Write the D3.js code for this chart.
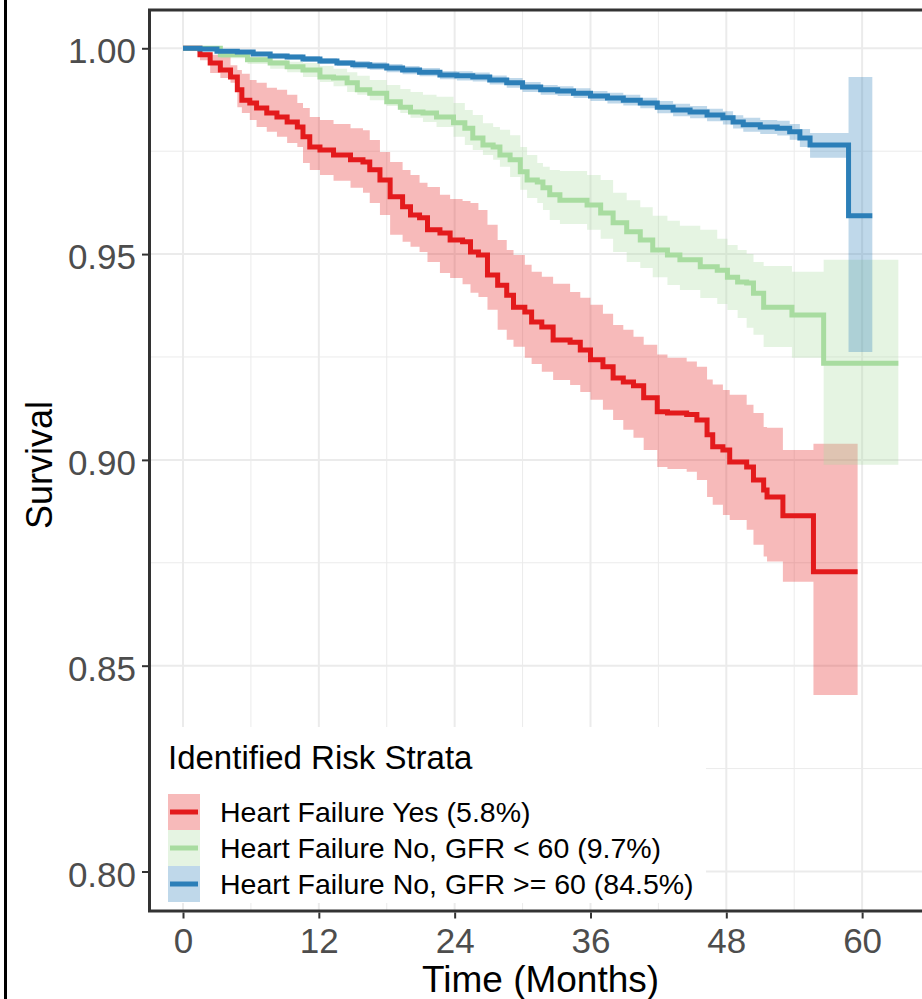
<!DOCTYPE html>
<html>
<head>
<meta charset="utf-8">
<script src="https://cdn.jsdelivr.net/npm/d3@7"></script>
<style>
  html, body { margin: 0; padding: 0; background: #ffffff; }
  svg { display: block; font-family: "Liberation Sans", Arial, Helvetica, sans-serif; }
</style>
</head>
<body>
<svg id="chart" width="922" height="999"></svg>
<script>
// Kaplan-Meier survival by risk stratum (months), with 95% confidence bands
const redTime = [0, 1.5, 2.4, 3.3, 4.2, 4.8, 5.2, 5.9, 6.5, 7.4, 8.3, 9.2, 10.1, 10.6, 11.2, 12.1, 13.3, 14.8, 15.9, 16.5, 17.4, 18.3, 19.4, 20.1, 20.9, 21.6, 22.7, 23.6, 24.7, 25.4, 26.1, 26.9, 27.8, 28.6, 29.2, 30.2, 30.8, 31.7, 32.7, 34.2, 35.1, 36.0, 37.1, 38.0, 38.9, 39.8, 40.7, 41.9, 42.8, 44.5, 45.4, 46.3, 46.8, 47.7, 48.3, 49.8, 50.4, 51.3, 51.6, 53.0, 55.7, 59.6];
const redSurv = [1.0000, 0.9984, 0.9964, 0.9947, 0.9930, 0.9899, 0.9874, 0.9867, 0.9855, 0.9843, 0.9833, 0.9821, 0.9809, 0.9785, 0.9760, 0.9753, 0.9741, 0.9729, 0.9724, 0.9705, 0.9680, 0.9639, 0.9615, 0.9595, 0.9588, 0.9559, 0.9551, 0.9534, 0.9530, 0.9505, 0.9498, 0.9449, 0.9424, 0.9400, 0.9371, 0.9359, 0.9335, 0.9323, 0.9291, 0.9286, 0.9267, 0.9243, 0.9226, 0.9199, 0.9189, 0.9180, 0.9151, 0.9117, 0.9114, 0.9110, 0.9097, 0.9061, 0.9032, 0.9024, 0.8995, 0.8983, 0.8951, 0.8927, 0.8910, 0.8864, 0.8728, 0.8728];
const redUpper = [1.0000, 0.9991, 0.9984, 0.9979, 0.9959, 0.9947, 0.9938, 0.9923, 0.9916, 0.9904, 0.9899, 0.9887, 0.9867, 0.9855, 0.9833, 0.9826, 0.9816, 0.9806, 0.9801, 0.9777, 0.9748, 0.9724, 0.9704, 0.9692, 0.9673, 0.9663, 0.9644, 0.9634, 0.9629, 0.9624, 0.9607, 0.9571, 0.9534, 0.9510, 0.9498, 0.9474, 0.9457, 0.9445, 0.9428, 0.9408, 0.9394, 0.9377, 0.9355, 0.9328, 0.9316, 0.9299, 0.9280, 0.9256, 0.9248, 0.9239, 0.9226, 0.9195, 0.9183, 0.9170, 0.9158, 0.9134, 0.9114, 0.9080, 0.9078, 0.9024, 0.9039, 0.9039];
const redLower = [1.0000, 0.9971, 0.9940, 0.9928, 0.9916, 0.9857, 0.9843, 0.9826, 0.9809, 0.9797, 0.9785, 0.9770, 0.9760, 0.9721, 0.9704, 0.9692, 0.9678, 0.9661, 0.9649, 0.9624, 0.9595, 0.9547, 0.9530, 0.9518, 0.9505, 0.9481, 0.9454, 0.9442, 0.9427, 0.9406, 0.9396, 0.9365, 0.9316, 0.9292, 0.9275, 0.9248, 0.9233, 0.9214, 0.9194, 0.9182, 0.9165, 0.9146, 0.9122, 0.9097, 0.9073, 0.9054, 0.9024, 0.8983, 0.8978, 0.8971, 0.8951, 0.8910, 0.8891, 0.8866, 0.8854, 0.8830, 0.8794, 0.8765, 0.8753, 0.8704, 0.8429, 0.8429];

const greenTime = [0, 3.3, 5.7, 7.7, 9.2, 10.6, 12.1, 13.3, 14.5, 15.4, 16.5, 18.0, 19.2, 20.1, 21.2, 22.4, 23.9, 24.9, 25.6, 26.5, 27.4, 28.0, 28.9, 29.8, 30.4, 31.3, 31.8, 32.4, 33.3, 35.7, 36.9, 38.0, 39.2, 40.4, 41.5, 42.8, 43.9, 45.7, 47.2, 48.1, 49.0, 49.8, 50.4, 51.3, 53.8, 56.6, 63.2];
const greenSurv = [1.0000, 0.9984, 0.9972, 0.9964, 0.9955, 0.9947, 0.9930, 0.9928, 0.9916, 0.9899, 0.9891, 0.9870, 0.9857, 0.9845, 0.9843, 0.9833, 0.9819, 0.9806, 0.9782, 0.9765, 0.9760, 0.9741, 0.9729, 0.9700, 0.9680, 0.9675, 0.9661, 0.9644, 0.9631, 0.9619, 0.9600, 0.9576, 0.9554, 0.9534, 0.9510, 0.9498, 0.9486, 0.9469, 0.9461, 0.9444, 0.9432, 0.9430, 0.9405, 0.9371, 0.9352, 0.9235, 0.9235];
const greenUpper = [1.0000, 0.9991, 0.9979, 0.9972, 0.9967, 0.9964, 0.9957, 0.9950, 0.9942, 0.9933, 0.9923, 0.9911, 0.9901, 0.9894, 0.9887, 0.9882, 0.9867, 0.9850, 0.9838, 0.9818, 0.9809, 0.9802, 0.9789, 0.9760, 0.9741, 0.9721, 0.9712, 0.9704, 0.9702, 0.9692, 0.9680, 0.9649, 0.9631, 0.9614, 0.9593, 0.9581, 0.9569, 0.9559, 0.9537, 0.9522, 0.9510, 0.9500, 0.9481, 0.9471, 0.9457, 0.9486, 0.9486];
const greenLower = [1.0000, 0.9976, 0.9962, 0.9950, 0.9942, 0.9930, 0.9918, 0.9908, 0.9894, 0.9887, 0.9874, 0.9860, 0.9843, 0.9831, 0.9821, 0.9809, 0.9785, 0.9765, 0.9753, 0.9741, 0.9729, 0.9712, 0.9687, 0.9656, 0.9636, 0.9624, 0.9607, 0.9583, 0.9573, 0.9559, 0.9537, 0.9505, 0.9481, 0.9466, 0.9444, 0.9425, 0.9413, 0.9393, 0.9379, 0.9364, 0.9345, 0.9321, 0.9304, 0.9274, 0.9248, 0.8988, 0.8988];

const blueTime = [0, 1.5, 3.0, 4.8, 6.2, 7.7, 9.2, 10.6, 12.1, 13.6, 15.0, 16.5, 18.0, 19.4, 20.9, 22.7, 24.2, 25.6, 27.1, 28.6, 30.0, 31.6, 33.1, 34.5, 36.0, 37.5, 38.9, 40.4, 41.9, 43.3, 44.8, 46.3, 47.7, 48.6, 49.5, 51.0, 52.5, 53.6, 54.5, 55.4, 58.8, 60.9];
const blueSurv = [1.0000, 0.9998, 0.9993, 0.9991, 0.9986, 0.9981, 0.9979, 0.9974, 0.9969, 0.9964, 0.9960, 0.9957, 0.9952, 0.9947, 0.9942, 0.9935, 0.9933, 0.9930, 0.9923, 0.9916, 0.9906, 0.9899, 0.9896, 0.9891, 0.9884, 0.9879, 0.9874, 0.9867, 0.9857, 0.9850, 0.9845, 0.9838, 0.9831, 0.9821, 0.9814, 0.9809, 0.9806, 0.9797, 0.9782, 0.9765, 0.9593, 0.9593];
const blueUpper = [1.0000, 1.0000, 0.9997, 0.9996, 0.9991, 0.9987, 0.9985, 0.9981, 0.9976, 0.9971, 0.9969, 0.9966, 0.9962, 0.9957, 0.9952, 0.9945, 0.9944, 0.9941, 0.9934, 0.9928, 0.9918, 0.9911, 0.9908, 0.9903, 0.9896, 0.9892, 0.9887, 0.9880, 0.9872, 0.9865, 0.9860, 0.9853, 0.9847, 0.9837, 0.9831, 0.9826, 0.9824, 0.9816, 0.9804, 0.9794, 0.9930, 0.9930];
const blueLower = [1.0000, 0.9996, 0.9989, 0.9986, 0.9981, 0.9975, 0.9973, 0.9967, 0.9962, 0.9957, 0.9951, 0.9948, 0.9942, 0.9937, 0.9932, 0.9925, 0.9922, 0.9919, 0.9912, 0.9904, 0.9894, 0.9887, 0.9884, 0.9879, 0.9872, 0.9866, 0.9861, 0.9854, 0.9842, 0.9835, 0.9830, 0.9823, 0.9815, 0.9805, 0.9797, 0.9792, 0.9788, 0.9778, 0.9760, 0.9734, 0.9262, 0.9262];

const strataLabels = ["Heart Failure Yes (5.8%)", "Heart Failure No, GFR < 60 (9.7%)", "Heart Failure No, GFR >= 60 (84.5%)"];
const strataColors = ["#E31A1C", "#A8DCA0", "#2C7FB8"];
const legendTitle = "Identified Risk Strata";

const xTicks = [0, 12, 24, 36, 48, 60];
const xMinorTicks = [6, 18, 30, 42, 54, 66];
const yTicks = [0.80, 0.85, 0.90, 0.95, 1.00];
const yMinorTicks = [0.825, 0.875, 0.925, 0.975];
const xTitle = "Time (Months)";
const yTitle = "Survival";

function rows(time, surv, lower, upper) {
  return time.map((t, i) => ({ t, s: surv[i], lo: lower[i], hi: upper[i] }));
}
const series = [
  rows(redTime, redSurv, redLower, redUpper),
  rows(greenTime, greenSurv, greenLower, greenUpper),
  rows(blueTime, blueSurv, blueLower, blueUpper)
];

const svg = d3.select("#chart");
const W = 922, H = 999;
const panel = { left: 149.5, top: 10, right: 934, bottom: 911 };

const x = d3.scaleLinear().domain([-2.96, 66.35]).range([panel.left, panel.right]);
const y = d3.scaleLinear().domain([0.7904, 1.0093]).range([panel.bottom, panel.top]);

svg.append("rect").attr("width", W).attr("height", H).attr("fill", "#ffffff");

// outer frame edge on the left
svg.append("line")
  .attr("x1", 5.5).attr("x2", 5.5).attr("y1", 0).attr("y2", H)
  .attr("stroke", "#000").attr("stroke-width", 3);

svg.append("defs").append("clipPath").attr("id", "panel-clip")
  .append("rect")
  .attr("x", panel.left).attr("y", panel.top)
  .attr("width", panel.right - panel.left).attr("height", panel.bottom - panel.top);

// grid
const grid = svg.append("g");
grid.selectAll(".ymin").data(yMinorTicks).join("line")
  .attr("x1", panel.left).attr("x2", panel.right)
  .attr("y1", d => y(d)).attr("y2", d => y(d))
  .attr("stroke", "#EBEBEB").attr("stroke-width", 1);
grid.selectAll(".xmin").data(xMinorTicks).join("line")
  .attr("y1", panel.top).attr("y2", panel.bottom)
  .attr("x1", d => x(d)).attr("x2", d => x(d))
  .attr("stroke", "#EBEBEB").attr("stroke-width", 1);
grid.selectAll(".ymaj").data(yTicks).join("line")
  .attr("x1", panel.left).attr("x2", panel.right)
  .attr("y1", d => y(d)).attr("y2", d => y(d))
  .attr("stroke", "#EBEBEB").attr("stroke-width", 2);
grid.selectAll(".xmaj").data(xTicks).join("line")
  .attr("y1", panel.top).attr("y2", panel.bottom)
  .attr("x1", d => x(d)).attr("x2", d => x(d))
  .attr("stroke", "#EBEBEB").attr("stroke-width", 2);

const plot = svg.append("g").attr("clip-path", "url(#panel-clip)");

const band = d3.area()
  .x(d => x(d.t)).y0(d => y(d.lo)).y1(d => y(d.hi))
  .curve(d3.curveStepAfter);
const line = d3.line()
  .x(d => x(d.t)).y(d => y(d.s))
  .curve(d3.curveStepAfter);

series.forEach((data, i) => {
  plot.append("path").datum(data)
    .attr("d", band)
    .attr("fill", strataColors[i]).attr("fill-opacity", 0.3);
});
series.forEach((data, i) => {
  plot.append("path").datum(data)
    .attr("d", line)
    .attr("fill", "none")
    .attr("stroke", strataColors[i]).attr("stroke-width", 5)
    .attr("stroke-linejoin", "miter").attr("stroke-linecap", "butt");
});

// legend (inside the panel, bottom-left)
const lg = svg.append("g");
lg.append("rect")
  .attr("x", 151).attr("y", 727).attr("width", 555).attr("height", 176)
  .attr("fill", "#ffffff");
lg.append("text")
  .attr("x", 168).attr("y", 769)
  .attr("font-size", 33).attr("fill", "#000")
  .text(legendTitle);
strataLabels.forEach((lab, i) => {
  const top = 794 + i * 36;
  lg.append("rect")
    .attr("x", 168).attr("y", top).attr("width", 32).attr("height", 36)
    .attr("fill", strataColors[i]).attr("fill-opacity", 0.3);
  lg.append("line")
    .attr("x1", 170).attr("x2", 198).attr("y1", top + 18).attr("y2", top + 18)
    .attr("stroke", strataColors[i]).attr("stroke-width", 5);
  lg.append("text")
    .attr("x", 220).attr("y", top + 28)
    .attr("font-size", 28.5).attr("fill", "#000")
    .text(lab);
});

// panel border
svg.append("rect")
  .attr("x", panel.left).attr("y", panel.top)
  .attr("width", panel.right - panel.left).attr("height", panel.bottom - panel.top)
  .attr("fill", "none").attr("stroke", "#333333").attr("stroke-width", 3);

// axes
const xAxis = d3.axisBottom(x).tickValues(xTicks).tickSize(6).tickPadding(10).tickFormat(d3.format("d"));
const gx = svg.append("g").attr("transform", `translate(0,${panel.bottom + 1.5})`).call(xAxis);
gx.select(".domain").remove();
gx.selectAll(".tick line").attr("stroke", "#333333").attr("stroke-width", 2);
gx.selectAll(".tick text")
  .attr("font-size", 35).attr("fill", "#4D4D4D")
  .attr("font-family", "'Liberation Sans', Arial, sans-serif");

const yAxis = d3.axisLeft(y).tickValues(yTicks).tickSize(6).tickPadding(6).tickFormat(d3.format(".2f"));
const gy = svg.append("g").attr("transform", `translate(${panel.left - 1.5},0)`).call(yAxis);
gy.select(".domain").remove();
gy.selectAll(".tick line").attr("stroke", "#333333").attr("stroke-width", 2);
gy.selectAll(".tick text")
  .attr("font-size", 35).attr("fill", "#4D4D4D")
  .attr("dy", "0.42em")
  .attr("font-family", "'Liberation Sans', Arial, sans-serif");

// axis titles
svg.append("text")
  .attr("x", (x(0) + x(60)) / 2 + 18).attr("y", 992)
  .attr("text-anchor", "middle")
  .attr("font-size", 37).attr("fill", "#000")
  .text(xTitle);
svg.append("text")
  .attr("transform", `translate(52,${465}) rotate(-90)`)
  .attr("text-anchor", "middle")
  .attr("font-size", 36).attr("fill", "#000")
  .text(yTitle);
</script>
</body>
</html>
